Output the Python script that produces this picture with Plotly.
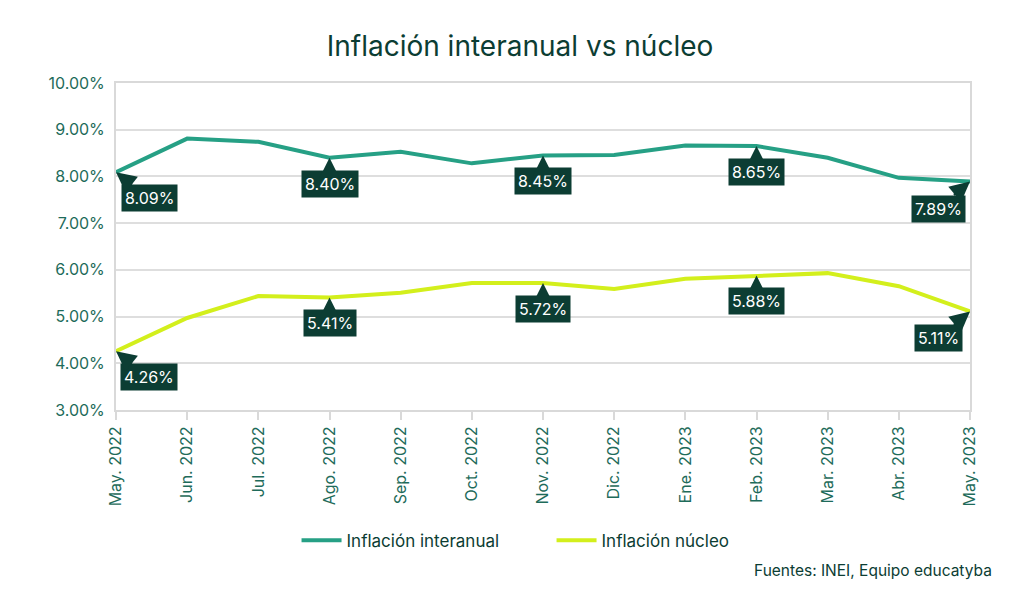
import plotly.graph_objects as go

months = ["May. 2022", "Jun. 2022", "Jul. 2022", "Ago. 2022", "Sep. 2022", "Oct. 2022",
          "Nov. 2022", "Dic. 2022", "Ene. 2023", "Feb. 2023", "Mar. 2023", "Abr. 2023", "May. 2023"]
interanual = [8.09, 8.81, 8.74, 8.40, 8.53, 8.28, 8.45, 8.46, 8.66, 8.65, 8.40, 7.97, 7.89]
nucleo = [4.26, 4.97, 5.44, 5.41, 5.51, 5.72, 5.72, 5.59, 5.81, 5.88, 5.93, 5.65, 5.11]
label_idx = [0, 3, 6, 9, 12]
y_ticks = [3, 4, 5, 6, 7, 8, 9, 10]

TEAL = "#26a085"
LIME = "#d3ef1c"
DARK = "#0c3d33"
TICK = "#1e6b5a"
FONT = "Inter, Open Sans, sans-serif"

fig = go.Figure()
fig.add_trace(go.Scatter(x=months, y=interanual, mode="lines", name="Inflación interanual",
                         line=dict(color=TEAL, width=4)))
fig.add_trace(go.Scatter(x=months, y=nucleo, mode="lines", name="Inflación núcleo",
                         line=dict(color=LIME, width=4)))

for series in (interanual, nucleo):
    for i in label_idx:
        if i == 0:
            ax, ay = 33, 26
        elif i == len(months) - 1:
            ax, ay = -32, 27
        else:
            ax, ay = 0, 26
        fig.add_annotation(x=months[i], y=series[i], text=f"{series[i]:.2f}%",
                           showarrow=True, arrowhead=2, arrowwidth=2.5, arrowsize=1.6,
                           arrowcolor=DARK, ax=ax, ay=ay, standoff=0, bgcolor=DARK, borderpad=3,
                           font=dict(color="white", size=16, family=FONT))

fig.add_annotation(text="Fuentes: INEI, Equipo educatyba", xref="paper", yref="paper",
                   x=1.028, y=-0.49, xanchor="right", yanchor="middle", showarrow=False,
                   font=dict(color=DARK, size=15.5, family=FONT))

fig.update_layout(
    width=1024, height=591,
    paper_bgcolor="white", plot_bgcolor="white",
    margin=dict(l=108, r=62, t=75, b=189),
    title=dict(text="Inflación interanual vs núcleo", x=0.5, xanchor="center", y=0.952,
               font=dict(size=28, color=DARK, family=FONT, weight="normal")),
    font=dict(family=FONT, color=TICK),
    showlegend=True,
    legend=dict(orientation="h", x=0.51, xanchor="center", y=-0.40, yanchor="middle",
                font=dict(size=17, color=DARK, family=FONT), itemwidth=40,
                entrywidth=200, entrywidthmode="pixels", traceorder="normal"),
)
fig.update_xaxes(showgrid=False, showline=True, linecolor="#d9d9d9", linewidth=2, mirror=True,
                 ticks="outside", tickcolor="#d9d9d9", ticklen=8, tickwidth=2, tickangle=-90,
                 tickfont=dict(size=16, color=TICK, family=FONT), range=[0, 12], automargin=False)
fig.update_yaxes(range=[3, 10], tickvals=y_ticks, ticktext=[f"{v:.2f}%" for v in y_ticks],
                 showgrid=True, gridcolor="#dedede", gridwidth=2, showline=True,
                 linecolor="#d9d9d9", linewidth=2, mirror=True, zeroline=False, automargin=False,
                 tickfont=dict(size=16, color=TICK, family=FONT), ticks="", ticklabelstandoff=6)

fig.write_html("out.html")
